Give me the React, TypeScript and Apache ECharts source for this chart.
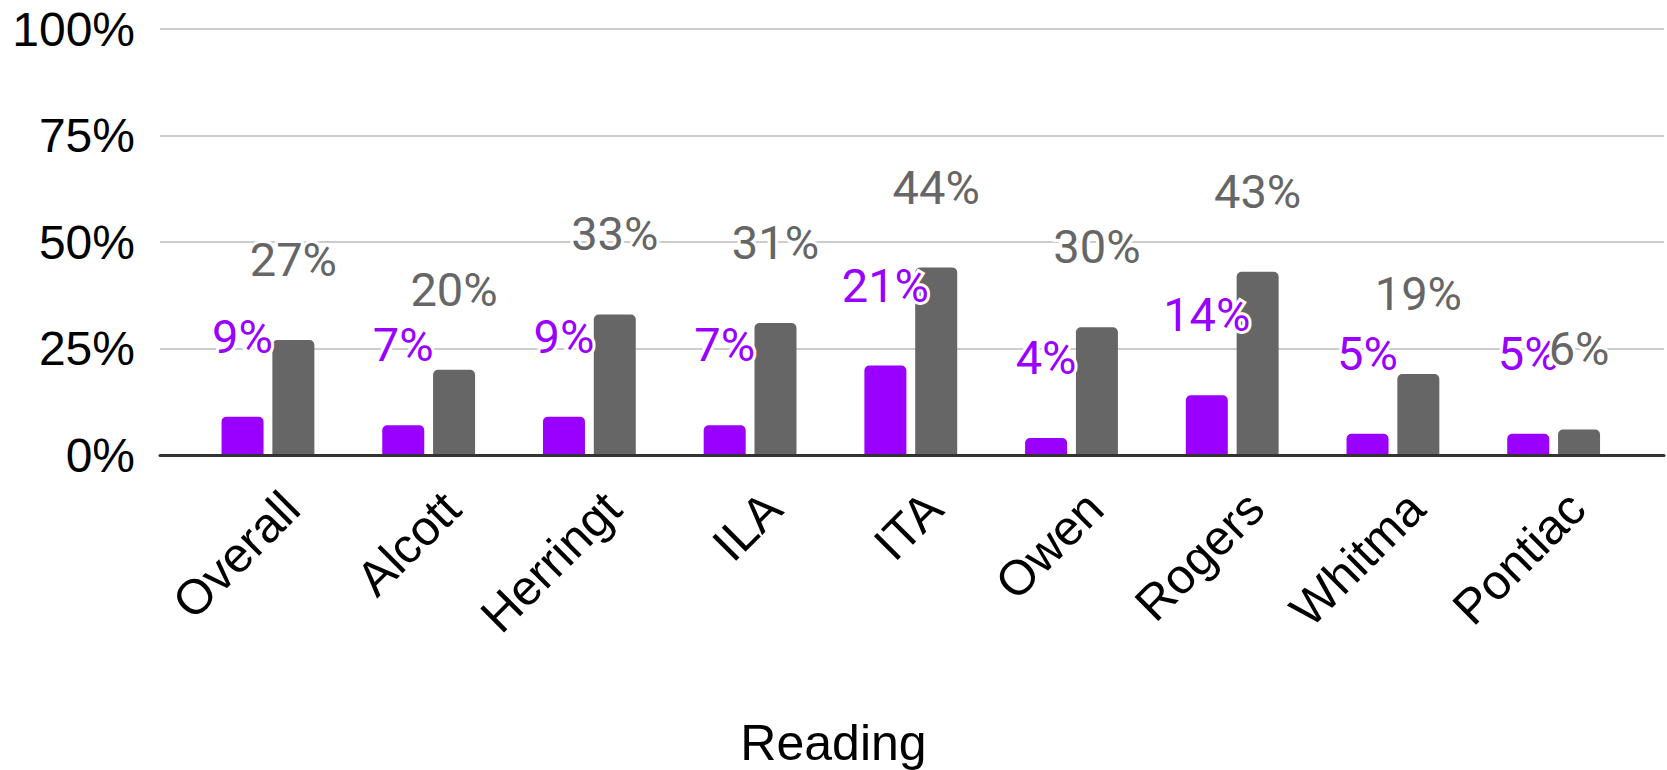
import React, { useEffect, useRef } from "react";
import * as echarts from "echarts";

const categories = ["Overall", "Alcott", "Herringt", "ILA", "ITA", "Owen", "Rogers", "Whitma", "Pontiac"];
const purpleValues = [9, 7, 9, 7, 21, 4, 14, 5, 5];
const grayValues = [27, 20, 33, 31, 44, 30, 43, 19, 6];
const yTicks = { min: 0, max: 100, interval: 25 };
const axisTitle = "Reading";

const PURPLE = "#9900ff";
const GRAY = "#666666";
const AXIS_FONT = "'Liberation Sans', Arial, sans-serif";
const LABEL_FONT = "Roboto, 'Liberation Sans', Arial, sans-serif";

export default function App() {
  const ref = useRef<HTMLDivElement>(null);

  useEffect(() => {
    if (!ref.current) return;
    const chart = echarts.init(ref.current, undefined, { renderer: "svg" });

    const top = 29;
    const bottom = 315;
    const barLeft = 187.6;
    const barRight = 33;
    const labelShift = 23;

    const dataLabel = (color: string) => ({
      show: true,
      position: "top" as const,
      distance: 57,
      formatter: "{c}%",
      color,
      fontFamily: LABEL_FONT,
      fontSize: 47,
      textBorderColor: "#ffffff",
      textBorderWidth: 6,
    });

    chart.setOption({
      animation: false,
      backgroundColor: "#ffffff",
      grid: [
        { left: 160, right: 3, top, bottom },
        { left: barLeft, right: barRight, top, bottom },
        { left: barLeft + labelShift, right: barRight - labelShift, top, bottom },
      ],
      xAxis: [
        {
          gridIndex: 0,
          type: "category",
          data: [""],
          z: 5,
          axisLine: { show: true, lineStyle: { color: "#333333", width: 3 } },
          axisTick: { show: false },
          axisLabel: { show: false },
          splitLine: { show: false },
        },
        {
          gridIndex: 1,
          type: "category",
          data: categories,
          axisLine: { show: false },
          axisTick: { show: false },
          axisLabel: { show: false },
          splitLine: { show: false },
        },
        {
          gridIndex: 2,
          type: "category",
          data: categories,
          axisLine: { show: false },
          axisTick: { show: false },
          axisLabel: {
            show: true,
            interval: 0,
            rotate: 45,
            margin: 45,
            color: "#000000",
            fontFamily: AXIS_FONT,
            fontSize: 49,
          },
          splitLine: { show: false },
        },
      ],
      yAxis: [
        {
          gridIndex: 0,
          type: "value",
          min: yTicks.min,
          max: yTicks.max,
          interval: yTicks.interval,
          axisLine: { show: false },
          axisTick: { show: false },
          axisLabel: {
            formatter: "{value}%",
            color: "#000000",
            fontFamily: AXIS_FONT,
            fontSize: 48,
            margin: 25,
          },
          splitLine: { show: true, lineStyle: { color: "#cccccc", width: 2 } },
        },
        {
          gridIndex: 1,
          type: "value",
          min: yTicks.min,
          max: yTicks.max,
          interval: yTicks.interval,
          show: false,
          splitLine: { show: false },
        },
        {
          gridIndex: 2,
          type: "value",
          min: yTicks.min,
          max: yTicks.max,
          interval: yTicks.interval,
          show: false,
          splitLine: { show: false },
        },
      ],
      graphic: [
        {
          type: "text",
          left: "center",
          top: 718,
          style: {
            text: axisTitle,
            fill: "#000000",
            fontFamily: AXIS_FONT,
            fontSize: 50,
          },
        },
      ],
      series: [
        {
          type: "bar",
          xAxisIndex: 1,
          yAxisIndex: 1,
          data: purpleValues,
          barWidth: 42,
          barGap: "21%",
          itemStyle: { color: PURPLE, borderRadius: [5, 5, 0, 0] },
          label: dataLabel(PURPLE),
        },
        {
          type: "bar",
          xAxisIndex: 1,
          yAxisIndex: 1,
          data: grayValues,
          barWidth: 42,
          barGap: "21%",
          itemStyle: { color: GRAY, borderRadius: [5, 5, 0, 0] },
          label: dataLabel(GRAY),
        },
      ],
    });

    return () => chart.dispose();
  }, []);

  return (
    <div
      ref={ref}
      style={{ position: "fixed", left: 0, top: 0, width: 1667, height: 770, background: "#fff" }}
    />
  );
}
